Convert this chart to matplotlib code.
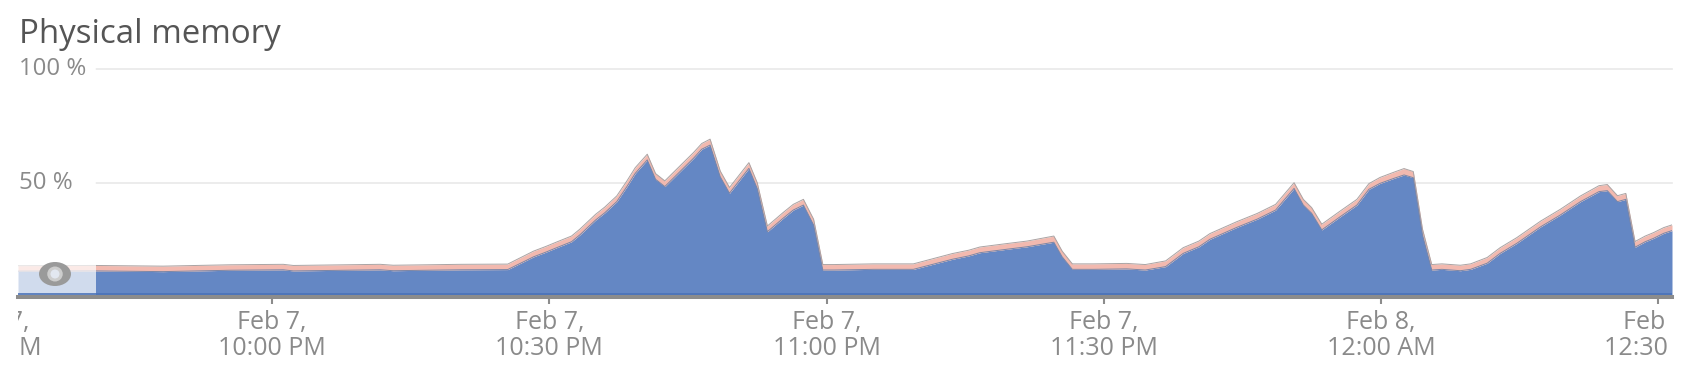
import matplotlib
matplotlib.use("Agg")
import matplotlib.pyplot as plt
from matplotlib.patches import Ellipse, Rectangle
from matplotlib.transforms import Bbox, TransformedBbox, blended_transform_factory

# ---------------- data ----------------
title = "Physical memory"

# minutes after Feb 7, 9:30 PM
times_min = [
    2.5, 10.9, 18.2, 23.0, 25.5, 31.2, 32.3, 41.7, 43.1, 50.4, 55.5,
    58.3, 59.6, 60.8, 62.4, 63.3, 65.0, 66.0, 67.3, 68.4, 69.3, 70.6,
    71.5, 72.5, 73.4, 74.5, 75.6, 76.5, 77.4, 78.5, 79.5, 81.6, 82.5,
    83.6, 85.3, 86.4, 87.5, 88.6, 89.6, 90.8, 95.1, 99.4,
    103.6, 105.4, 106.6, 109.5, 111.7, 114.6, 115.5, 116.6, 118.9, 122.5, 124.5,
    126.7, 128.6, 130.3, 131.5, 134.4, 136.6, 138.6, 140.6, 141.6, 142.5, 143.6,
    145.6, 147.4, 148.7, 149.9, 151.4, 152.5, 153.5, 154.5, 155.5, 156.6, 158.6,
    159.7, 161.5, 162.9, 164.7, 167.3, 169.4, 171.6, 173.6, 174.5, 175.6, 176.5,
    177.5, 178.6, 179.5, 180.6, 181.5,
]

used_pct = [
    11.2, 11.3, 11.0, 11.4, 11.6, 11.8, 11.3, 11.8, 11.4, 11.8, 11.9,
    17.5, 19.5, 21.5, 24.1, 27.1, 33.6, 36.8, 41.7, 48.3, 54.1, 60.0,
    51.5, 48.3, 51.9, 56.3, 60.7, 64.7, 66.5, 52.6, 45.4, 56.3, 47.5,
    28.5, 34.4, 38.0, 40.2, 31.5, 11.7, 11.7, 12.0, 12.0,
    16.4, 17.9, 19.3, 20.8, 21.9, 23.9, 17.5, 12.0, 12.0, 12.2, 11.7,
    13.2, 19.0, 21.9, 25.2, 30.4, 34.0, 38.0, 47.5, 40.2, 36.6, 29.3,
    35.1, 40.2, 47.1, 49.7, 51.9, 53.4, 52.2, 27.1, 11.7, 12.0, 11.4,
    12.0, 14.7, 19.0, 23.4, 30.7, 35.8, 41.7, 46.1, 46.5, 41.7, 42.7,
    21.7, 24.1, 25.6, 27.8, 29.0,
]

cache_pct = [
    2.4, 2.4, 2.4, 2.4, 2.4, 2.4, 2.4, 2.4, 2.4, 2.4, 2.4,
    2.5, 2.5, 2.5, 2.5, 2.5, 2.5, 2.5, 2.5, 2.5, 2.5, 2.5,
    2.5, 2.5, 2.5, 2.5, 2.5, 2.5, 2.6, 2.5, 2.5, 2.5, 2.5,
    2.5, 2.5, 2.5, 2.5, 2.5, 2.4, 2.4, 2.4, 2.4,
    2.5, 2.5, 2.5, 2.5, 2.5, 2.7, 2.5, 2.4, 2.4, 2.4, 2.4,
    2.5, 2.5, 2.5, 2.5, 2.5, 2.5, 2.5, 2.5, 2.5, 2.5, 2.5,
    2.5, 2.5, 2.5, 2.6, 2.7, 2.8, 2.7, 2.5, 2.4, 2.4, 2.4,
    2.4, 2.5, 2.5, 2.5, 2.5, 2.5, 2.5, 2.6, 2.7, 2.6, 2.6,
    2.5, 2.5, 2.5, 2.5, 2.5,
]

y_ticks = [50, 100]
y_tick_labels = ["50 %", "100 %"]

x_ticks = [0, 30, 60, 90, 120, 150, 180]
x_tick_labels = [
    "Feb 7,\n9:30 PM", "Feb 7,\n10:00 PM", "Feb 7,\n10:30 PM", "Feb 7,\n11:00 PM",
    "Feb 7,\n11:30 PM", "Feb 8,\n12:00 AM", "Feb 8,\n12:30 AM",
]

assert len(times_min) == len(used_pct) == len(cache_pct)

# ---------------- style ----------------
plt.rcParams['font.family'] = ['Open Sans', 'DejaVu Sans']

BLUE = '#6487c4'
PINK = '#f2b9af'
GRID = '#e9e9e9'
AXIS_GRAY = '#8c8c8c'
LABEL_GRAY = '#8a8a8a'

W, H = 1696, 368
fig = plt.figure(figsize=(W / 100, H / 100), dpi=100)

ax_l, ax_r = 18, 1672
ax_top, ax_bot = 60, 296.7
px_per_pct = 2.28
ax = fig.add_axes([ax_l / W, 1 - ax_bot / H, (ax_r - ax_l) / W, (ax_bot - ax_top) / H])
ax.patch.set_alpha(0)

top_pct = [u + c for u, c in zip(used_pct, cache_pct)]

ax.fill_between(times_min, 0, used_pct, color=BLUE, lw=0, zorder=1)
ax.fill_between(times_min, used_pct, top_pct, color=PINK, lw=0, zorder=1)
ax.plot(times_min, top_pct, color='#aaa3a3', lw=0.7, zorder=2)
ax.plot(times_min, used_pct, color='#7a86a6', lw=0.7, zorder=2)

ax.set_yticks([])
ax.set_xticks(x_ticks)
ax.tick_params(axis='x', length=5, width=1.5, color=AXIS_GRAY, direction='out',
               labelbottom=False)
# limits set after the ticks so the off-screen 9:30 tick does not widen the view
ax.set_xlim(times_min[0], times_min[-1])
ax.set_ylim(0, (ax_bot - ax_top) / px_per_pct)

# gridlines (start right of the labels)
blend_y = blended_transform_factory(ax.transAxes, ax.transData)
grid_start = (96 - ax_l) / (ax_r - ax_l)
for yv, lab in zip(y_ticks, y_tick_labels):
    ax.plot([grid_start, 1], [yv, yv], transform=blend_y, color=GRID, lw=1.2,
            zorder=0.5, clip_on=False)
    ax.text(1 / (ax_r - ax_l), yv, lab, transform=blend_y, ha='left', va='center',
            fontsize=17.3, color=LABEL_GRAY, zorder=10)

# overlay (selection area at the left)
ax.add_patch(Rectangle((0, 0), grid_start, 1, transform=ax.transAxes,
                       facecolor='white', alpha=0.7, lw=0, zorder=3))

# bottom blue line + axis bar
ax.axhline((ax_bot - 294.0) / px_per_pct, color='#4a72b8', lw=1.2, zorder=4)
for s in ['top', 'left', 'right']:
    ax.spines[s].set_visible(False)
ax.spines['bottom'].set_color(AXIS_GRAY)
ax.spines['bottom'].set_linewidth(2.9)
ax.spines['bottom'].set_zorder(5)

# x labels, clipped to the plot's horizontal extent (as in the reference)
clip = TransformedBbox(Bbox([[ax_l / W, 0], [ax_r / W, 1]]), fig.transFigure)
blend_x = blended_transform_factory(ax.transData, fig.transFigure)
for xv, lab in zip(x_ticks, x_tick_labels):
    t = ax.text(xv, 1 - 310 / H, lab, transform=blend_x, ha='center', va='top',
                fontsize=18, color=LABEL_GRAY, linespacing=1.07, multialignment='center')
    t.set_clip_on(True)
    t.set_clip_box(clip)

# drag handle
fig.add_artist(Ellipse((55 / W, 1 - 274 / H), 32 / W, 24 / H, transform=fig.transFigure,
                       facecolor='#9a9a9a', edgecolor='none', zorder=6))
fig.add_artist(Ellipse((55 / W, 1 - 274 / H), 15.5 / W, 15 / H, transform=fig.transFigure,
                       facecolor='#cdcdcd', edgecolor='none', zorder=7))
fig.add_artist(Ellipse((55 / W, 1 - 274 / H), 9 / W, 9 / H, transform=fig.transFigure,
                       facecolor='#e2e7f0', edgecolor='none', zorder=8))

fig.text(19 / W, 1 - 43 / H, title, fontsize=23.8, color='#555555', ha='left', va='baseline')

fig.savefig('out.png', dpi=100)
